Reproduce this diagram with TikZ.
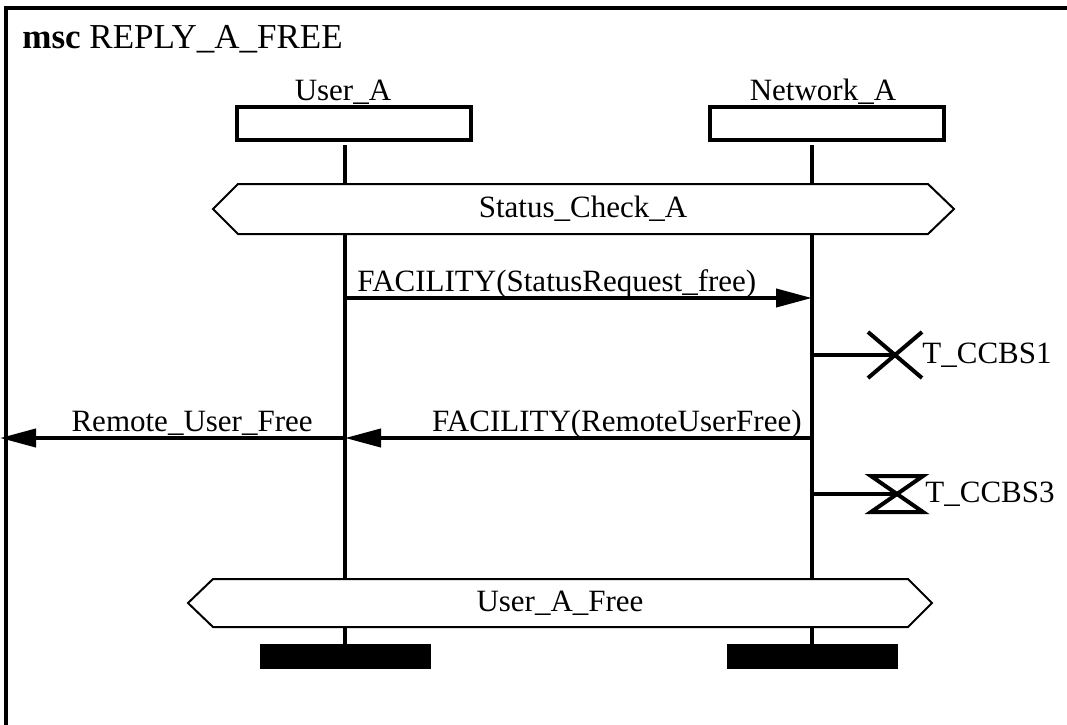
\documentclass[tikz,border=0pt]{standalone}
\usepackage{fontspec}
\setmainfont{Liberation Serif}
\usepackage{tikz}
\usetikzlibrary{positioning,calc,arrows.meta}

\begin{document}
\begin{tikzpicture}[
					x=0.5pt,y=-0.5pt,
					>={Triangle[length=18pt,width=9pt]},
					line cap=butt,line join=miter,
					font=\fontsize{15.5}{18}\selectfont,
					life/.style={black, line width=2pt},
					msg/.style={->, black, line width=2pt},
					cond/.style={draw=black, line width=1pt, fill=white},
					inst/.style={draw=black, line width=2pt, minimum width=117pt, minimum height=16.5pt, inner sep=0pt},
					stopbar/.style={fill=black, minimum width=85.5pt, minimum height=12.5pt, inner sep=0pt},
					timer/.style={black, line width=2pt},
					lbl/.style={inner sep=0pt}
					]
					%----- parameters
					\def\uX{345}
					\def\nX{812}
					
					% page and msc frame (runs off right and bottom)
					\clip (0,0) rectangle (1067,724);
					\draw[black, line width=2pt] (6,8) rectangle (1100,760);
					\node[lbl, anchor=base west, font=\fontsize{17.5}{20}\selectfont] (title) at (22,48) {\textbf{msc} REPLY\_A\_FREE};
					
					%----- instance heads
					\node[inst] (userA) at (354,123.5) {};
					\node[inst] (netA) at (826.5,123.5) {};
					\node[lbl, anchor=base] (userAname) at (343,100) {User\_A};
					\node[lbl, anchor=base] (netAname) at (823,100) {Network\_A};
					
					%----- stop bars
					\node[stopbar, anchor=north] (userAstop) at (\uX,644) {};
					\node[stopbar, anchor=north] (netAstop) at (\nX,644) {};
					
					%----- lifelines
					\coordinate (uTop) at (\uX,145);
					\coordinate (nTop) at (\nX,145);
					\draw[life] (uTop) -- (userAstop.north);
					\draw[life] (nTop) -- (netAstop.north);
					
					%----- conditions
					\draw[cond] (213,209) -- (238,184) -- (928,184) -- (954,209) -- (928,234) -- (238,234) -- cycle;
					\node[lbl] (statusCheck) at (583,209) {Status\_Check\_A};
					
					\draw[cond] (188,603) -- (213,579) -- (908,579) -- (932,603) -- (908,627) -- (213,627) -- cycle;
					\node[lbl] (userFree) at (560,603) {User\_A\_Free};
					
					%----- messages
					\coordinate (m1s) at (\uX,298);
					\coordinate (m1e) at (\nX,298);
					\draw[msg] (m1s) -- (m1e);
					\node[lbl, anchor=base west] (m1lbl) at (357,291) {FACILITY(StatusRequest\_free)};
					
					\coordinate (m2s) at (\nX,438);
					\coordinate (m2e) at (\uX,438);
					\draw[msg] (m2s) -- (m2e);
					\node[lbl, anchor=base east] (m2lbl) at (802,431) {FACILITY(RemoteUserFree)};
					
					\coordinate (envL) at (0,438);
					\draw[msg] (m2e) -- (envL);
					\node[lbl, anchor=base east] (m3lbl) at (313,431) {Remote\_User\_Free};
					
					%----- timers
					% T_CCBS1 (set)
					\coordinate (t1s) at (\nX,355);
					\coordinate (t1c) at (895,355);
					\draw[timer] (t1s) -- (t1c);
					\draw[timer] ($(t1c)+(-27,-23)$) -- ($(t1c)+(27,23)$)
					($(t1c)+(-27,23)$) -- ($(t1c)+(27,-23)$);
					\node[lbl, anchor=west] (t1lbl) at (922,355) {T\_CCBS1};
					
					% T_CCBS3 (hourglass)
					\coordinate (t3s) at (\nX,494);
					\coordinate (t3c) at (897,494);
					\draw[timer] (t3s) -- (t3c);
					\draw[timer] ($(t3c)+(-26,-18)$) -- ($(t3c)+(26,-18)$) -- ($(t3c)+(-26,18)$) -- ($(t3c)+(26,18)$) -- cycle;
					\node[lbl, anchor=west] (t3lbl) at (925,494) {T\_CCBS3};
					
				\end{tikzpicture}
\end{document}
